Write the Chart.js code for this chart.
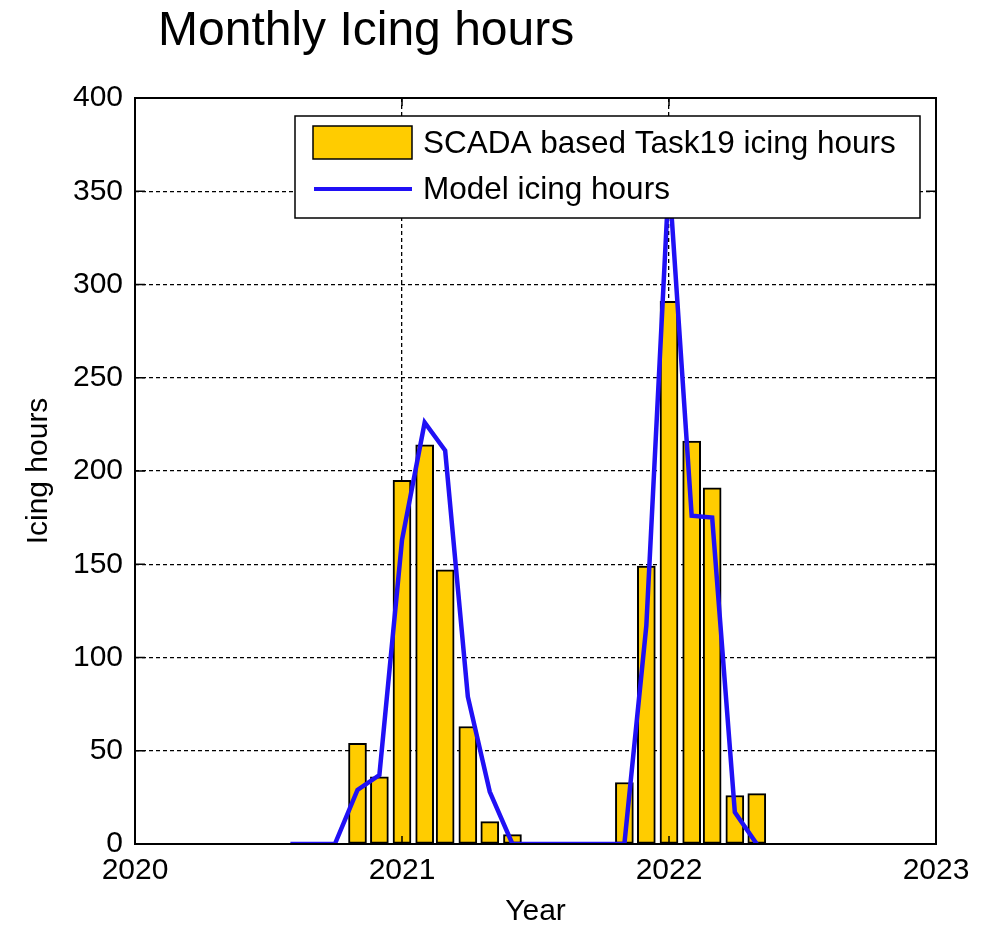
<!DOCTYPE html>
<html>
<head>
<meta charset="utf-8">
<title>Monthly Icing hours</title>
<script src="https://cdn.jsdelivr.net/npm/chart.js@4.4.1/dist/chart.umd.min.js"></script>
<style>
  html, body { margin: 0; padding: 0; background: #fff; }
  #wrap { width: 984px; height: 925px; }
</style>
</head>
<body>
<div id="wrap"><canvas id="chart" width="984" height="925"></canvas></div>
<script>
// monthly values
const scadaMonths = ['2020-11', '2020-12', '2021-01', '2021-02', '2021-03', '2021-04', '2021-05', '2021-06',
  '2021-11', '2021-12', '2022-01', '2022-02', '2022-03', '2022-04', '2022-05'];
const scadaHours = [54, 36, 195, 214, 147, 63, 12, 5, 33, 149, 291, 216, 191, 26, 27];

const modelMonths = ['2020-08', '2020-09', '2020-10', '2020-11', '2020-12', '2021-01', '2021-02', '2021-03',
  '2021-04', '2021-05', '2021-06', '2021-07', '2021-08', '2021-09', '2021-10', '2021-11', '2021-12',
  '2022-01', '2022-02', '2022-03', '2022-04', '2022-05'];
const modelHours = [0, 0, 0, 29, 37, 163, 226, 211, 79, 28, 0, 0, 0, 0, 0, 0, 117, 358, 176, 175, 17, 0];

const yearTicks = [2020, 2021, 2022, 2023];
const hourTicks = [0, 50, 100, 150, 200, 250, 300, 350, 400];

const FONT = '"Liberation Sans", Arial, sans-serif';

// '2021-03' -> decimal year (start of month)
const toYear = (s) => {
  const [y, m] = s.split('-').map(Number);
  const start = Date.UTC(y, 0, 1);
  const end = Date.UTC(y + 1, 0, 1);
  return y + (Date.UTC(y, m - 1, 1) - start) / (end - start);
};

const scadaPoints = scadaMonths.map((m, i) => ({ x: toYear(m), y: scadaHours[i] }));
const modelPoints = modelMonths.map((m, i) => ({ x: toYear(m), y: modelHours[i] }));

// title, frame with inward ticks, and the boxed legend on top of the data
const decorations = {
  id: 'decorations',
  afterDatasetsDraw(chart) {
    const { ctx, chartArea: a, scales } = chart;
    ctx.save();

    // frame
    ctx.strokeStyle = '#000';
    ctx.lineWidth = 2;
    ctx.setLineDash([]);
    ctx.strokeRect(a.left, a.top, a.right - a.left, a.bottom - a.top);

    // inward ticks
    ctx.lineWidth = 1.5;
    ctx.beginPath();
    hourTicks.forEach(v => {
      const py = scales.y.getPixelForValue(v);
      ctx.moveTo(a.left, py); ctx.lineTo(a.left + 10, py);
      ctx.moveTo(a.right, py); ctx.lineTo(a.right - 10, py);
    });
    yearTicks.forEach(v => {
      const px = scales.x.getPixelForValue(v);
      ctx.moveTo(px, a.bottom); ctx.lineTo(px, a.bottom - 8);
      ctx.moveTo(px, a.top); ctx.lineTo(px, a.top + 8);
    });
    ctx.stroke();

    // legend box
    const bars = chart.data.datasets[1];
    const line = chart.data.datasets[0];
    ctx.fillStyle = '#fff';
    ctx.fillRect(295, 116, 625, 102);
    ctx.lineWidth = 1.5;
    ctx.strokeStyle = '#000';
    ctx.strokeRect(295, 116, 625, 102);

    ctx.fillStyle = bars.backgroundColor;
    ctx.fillRect(313, 126, 99, 33);
    ctx.strokeRect(313, 126, 99, 33);

    ctx.strokeStyle = line.borderColor;
    ctx.lineWidth = 4;
    ctx.beginPath();
    ctx.moveTo(314, 189); ctx.lineTo(412, 189);
    ctx.stroke();

    ctx.fillStyle = '#000';
    ctx.font = '31.5px ' + FONT;
    ctx.textAlign = 'left';
    ctx.textBaseline = 'alphabetic';
    ctx.fillText(bars.label, 423, 153);
    ctx.fillText(line.label, 423, 199);

    // chart title
    ctx.font = '48px ' + FONT;
    ctx.fillText('Monthly Icing hours', 158, 45);

    ctx.restore();
  }
};

new Chart(document.getElementById('chart'), {
  type: 'bar',
  data: {
    datasets: [
      {
        type: 'line',
        label: 'Model icing hours',
        data: modelPoints,
        borderColor: '#2010F5',
        backgroundColor: '#2010F5',
        borderWidth: 4.5,
        pointRadius: 0,
        tension: 0,
        order: 1
      },
      {
        type: 'bar',
        label: 'SCADA based Task19 icing hours',
        data: scadaPoints,
        backgroundColor: '#FFCC00',
        borderColor: '#000',
        borderWidth: 2,
        borderSkipped: false,
        barThickness: 18,
        order: 2
      }
    ]
  },
  options: {
    responsive: false,
    animation: false,
    layout: { padding: { top: 98, right: 48, left: 0, bottom: 0 } },
    plugins: {
      legend: { display: false },
      title: { display: false },
      tooltip: { enabled: false }
    },
    scales: {
      x: {
        type: 'linear',
        min: 2020,
        max: 2023,
        offset: false,
        afterFit: (s) => { s.height = 81; },
        afterBuildTicks: (s) => { s.ticks = yearTicks.map(v => ({ value: v })); },
        ticks: {
          color: '#000',
          font: { family: FONT, size: 30 },
          padding: 9,
          maxRotation: 0,
          callback: (v) => String(v)
        },
        grid: {
          offset: false,
          drawTicks: false,
          color: '#000',
          lineWidth: 1.3
        },
        border: { display: false, dash: [4, 3] },
        title: {
          display: true,
          text: 'Year',
          color: '#000',
          font: { family: FONT, size: 30, lineHeight: 0.9 },
          padding: { top: 0, bottom: 0 }
        }
      },
      y: {
        min: 0,
        max: 400,
        afterFit: (s) => { s.width = 135; },
        afterBuildTicks: (s) => { s.ticks = hourTicks.map(v => ({ value: v })); },
        ticks: {
          color: '#000',
          font: { family: FONT, size: 30 },
          padding: 12
        },
        grid: {
          drawTicks: false,
          color: '#000',
          lineWidth: 1.3
        },
        border: { display: false, dash: [4, 3] },
        title: {
          display: true,
          text: 'Icing hours',
          color: '#000',
          font: { family: FONT, size: 30 },
          padding: { top: 21, bottom: 0 }
        }
      }
    }
  },
  plugins: [decorations]
});
</script>
</body>
</html>
